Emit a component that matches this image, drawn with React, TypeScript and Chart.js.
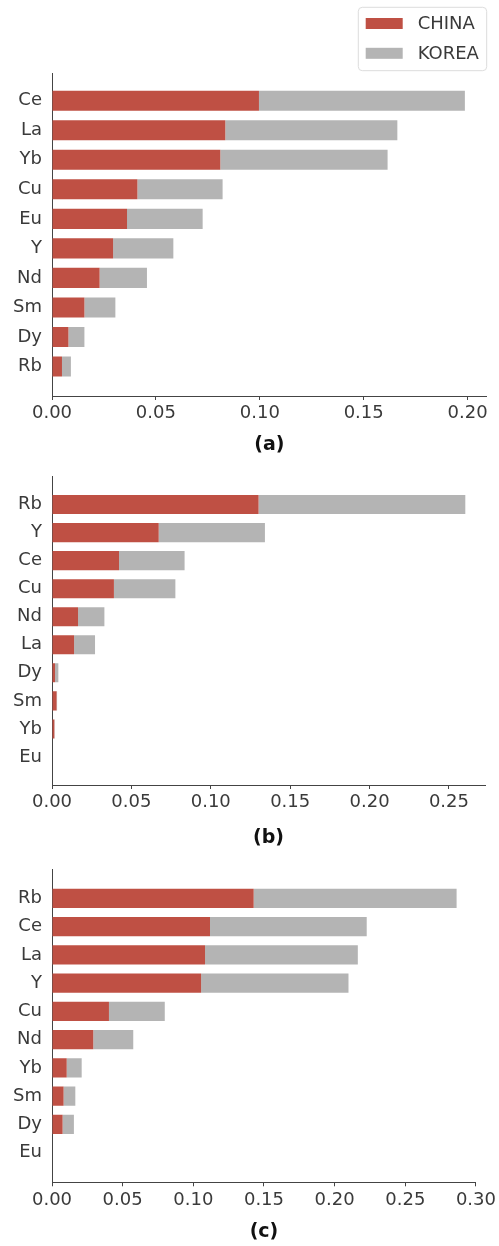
import React, { useEffect, useRef } from 'react';
import { Chart, registerables } from 'chart.js';

Chart.register(...registerables);
Chart.defaults.font.family = "'DejaVu Sans', sans-serif";

const SERIES_NAMES = ['CHINA', 'KOREA'];
const SERIES_COLORS = ['#BF5044', '#B4B4B4'];
const AXIS_COLOR = '#444444';
const TEXT_COLOR = '#3a3a3a';

// Panel (a)
const labelsA = ['Ce', 'La', 'Yb', 'Cu', 'Eu', 'Y', 'Nd', 'Sm', 'Dy', 'Rb'];
const chinaA = [0.0996, 0.0834, 0.081, 0.0411, 0.0361, 0.0294, 0.0229, 0.0156, 0.0079, 0.0048];
const koreaA = [0.0991, 0.0828, 0.0805, 0.041, 0.0364, 0.029, 0.0228, 0.0149, 0.0077, 0.0043];
const ticksA = [0, 0.05, 0.1, 0.15, 0.2];

// Panel (b)
const labelsB = ['Rb', 'Y', 'Ce', 'Cu', 'Nd', 'La', 'Dy', 'Sm', 'Yb', 'Eu'];
const chinaB = [0.1301, 0.0672, 0.0422, 0.039, 0.0164, 0.0139, 0.0019, 0.0029, 0.0015, 0];
const koreaB = [0.1302, 0.0669, 0.0413, 0.0387, 0.0166, 0.0132, 0.0021, 0.0003, 0.0002, 0];
const ticksB = [0, 0.05, 0.1, 0.15, 0.2, 0.25];

// Panel (c)
const labelsC = ['Rb', 'Ce', 'La', 'Y', 'Cu', 'Nd', 'Yb', 'Sm', 'Dy', 'Eu'];
const chinaC = [0.1427, 0.1118, 0.1083, 0.1055, 0.0403, 0.0292, 0.0104, 0.0082, 0.0075, 0];
const koreaC = [0.1436, 0.1109, 0.1081, 0.1043, 0.0395, 0.0283, 0.0106, 0.0083, 0.008, 0];
const ticksC = [0, 0.05, 0.1, 0.15, 0.2, 0.25, 0.3];

const W = 499;

type PanelCfg = {
  title: string;
  labels: string[];
  china: number[];
  korea: number[];
  xTicks: number[];
  xMax: number;
  yMin: number;
  yMax: number;
  top: number;
  height: number;
  areaTop: number;
  areaBottom: number;
  areaRight: number;
  legend: boolean;
};

const panels: PanelCfg[] = [
  {
    title: '(a)', labels: labelsA, china: chinaA, korea: koreaA, xTicks: ticksA,
    xMax: 0.2092, yMin: -0.93, yMax: 10,
    top: 0, height: 456, areaTop: 73.3, areaBottom: 396, areaRight: 486.7, legend: true,
  },
  {
    title: '(b)', labels: labelsB, china: chinaB, korea: koreaB, xTicks: ticksB,
    xMax: 0.2727, yMin: -0.99, yMax: 10,
    top: 456, height: 393, areaTop: 460, areaBottom: 785, areaRight: 485, legend: false,
  },
  {
    title: '(c)', labels: labelsC, china: chinaC, korea: koreaC, xTicks: ticksC,
    xMax: 0.3, yMin: -1.01, yMax: 10.05,
    top: 849, height: 394, areaTop: 855, areaBottom: 1182.3, areaRight: 477, legend: false,
  },
];

const boxLegend = {
  id: 'boxLegend',
  afterDraw(chart: any) {
    const ctx = chart.ctx as CanvasRenderingContext2D;
    ctx.save();
    const bx = 358.3, by = 7.3, bw = 128.4, bh = 63.4, r = 4;
    ctx.beginPath();
    ctx.moveTo(bx + r, by);
    ctx.lineTo(bx + bw - r, by);
    ctx.arcTo(bx + bw, by, bx + bw, by + r, r);
    ctx.lineTo(bx + bw, by + bh - r);
    ctx.arcTo(bx + bw, by + bh, bx + bw - r, by + bh, r);
    ctx.lineTo(bx + r, by + bh);
    ctx.arcTo(bx, by + bh, bx, by + bh - r, r);
    ctx.lineTo(bx, by + r);
    ctx.arcTo(bx, by, bx + r, by, r);
    ctx.closePath();
    ctx.fillStyle = '#ffffff';
    ctx.fill();
    ctx.strokeStyle = '#dcdcdc';
    ctx.lineWidth = 1;
    ctx.stroke();
    chart.data.datasets.forEach((ds: any, i: number) => {
      const cy = 23.5 + i * 29.8;
      ctx.fillStyle = ds.backgroundColor;
      ctx.fillRect(365.7, cy - 5.5, 37, 11);
      ctx.fillStyle = TEXT_COLOR;
      ctx.font = "18px 'DejaVu Sans', sans-serif";
      ctx.textBaseline = 'middle';
      ctx.textAlign = 'left';
      ctx.fillText(ds.label, 417.7, cy + 0.7);
    });
    ctx.restore();
  },
};

function Panel({ cfg }: { cfg: PanelCfg }) {
  const ref = useRef<HTMLCanvasElement>(null);
  useEffect(() => {
    if (!ref.current) return;
    const c = cfg;
    const chart = new Chart(ref.current, {
      type: 'bar',
      data: {
        datasets: [c.china, c.korea].map((vals, k) => ({
          label: SERIES_NAMES[k],
          data: vals.map((v, i) => ({ x: v, y: i })),
          backgroundColor: SERIES_COLORS[k],
          borderWidth: 0,
          barPercentage: 0.85,
          categoryPercentage: 0.8,
        })),
      },
      options: {
        indexAxis: 'y',
        responsive: false,
        animation: false,
        devicePixelRatio: 1,
        layout: {
          padding: { left: 0, right: W - c.areaRight, top: c.areaTop - c.top, bottom: 0 },
        },
        plugins: {
          legend: { display: false },
          tooltip: { enabled: false },
          title: { display: false },
        },
        scales: {
          x: {
            type: 'linear',
            position: 'bottom',
            stacked: true,
            offset: false,
            min: 0,
            max: c.xMax,
            afterBuildTicks: (s: any) => {
              s.ticks = c.xTicks.map((v) => ({ value: v }));
            },
            afterFit: (s: any) => {
              s.height = c.top + c.height - c.areaBottom;
            },
            grid: {
              display: true,
              drawOnChartArea: false,
              drawTicks: true,
              tickLength: 4,
              offset: false,
              color: AXIS_COLOR,
              lineWidth: 1,
            },
            border: { display: true, color: AXIS_COLOR, width: 1 },
            ticks: {
              padding: 3,
              color: TEXT_COLOR,
              font: { size: 18 },
              maxRotation: 0,
              autoSkip: false,
              callback: (v: any) => Number(v).toFixed(2),
            },
            title: {
              display: true,
              text: c.title,
              color: '#111111',
              font: { size: 19, weight: 'bold' },
              padding: 0,
            },
          },
          y: {
            type: 'linear',
            stacked: true,
            reverse: true,
            offset: false,
            min: c.yMin,
            max: c.yMax,
            afterBuildTicks: (s: any) => {
              s.ticks = c.labels.map((_, i) => ({ value: i }));
            },
            afterFit: (s: any) => {
              s.width = 52;
            },
            grid: { display: false, drawTicks: false, offset: false },
            border: { display: true, color: AXIS_COLOR, width: 1 },
            ticks: {
              padding: 10,
              color: TEXT_COLOR,
              font: { size: 18 },
              autoSkip: false,
              callback: (v: any) => c.labels[v] ?? '',
            },
          },
        },
      } as any,
      plugins: c.legend ? [boxLegend] : [],
    });
    return () => chart.destroy();
  }, [cfg]);
  return (
    <canvas
      ref={ref}
      width={W}
      height={cfg.height}
      style={{ position: 'absolute', left: 0, top: cfg.top, width: W, height: cfg.height, display: 'block' }}
    />
  );
}

export default function App() {
  return (
    <div style={{ position: 'absolute', left: 0, top: 0, width: W, height: 1246, background: '#ffffff' }}>
      {panels.map((p) => (
        <Panel key={p.title} cfg={p} />
      ))}
    </div>
  );
}
